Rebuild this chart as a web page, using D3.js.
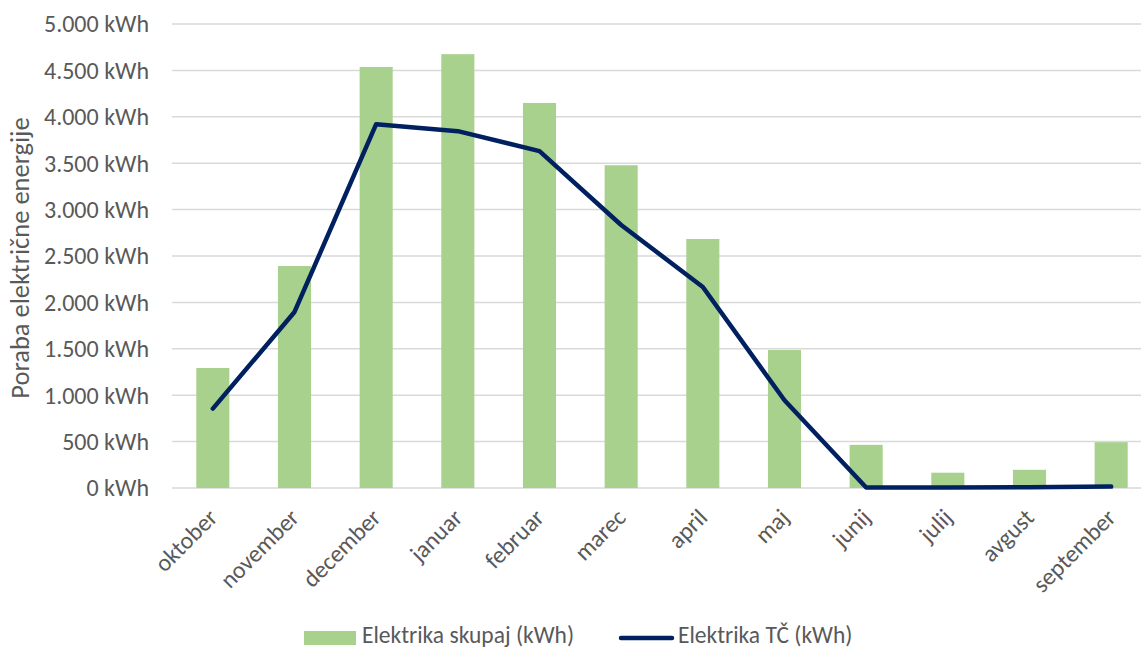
<!DOCTYPE html>
<html><head><meta charset="utf-8">
<script src="https://cdn.jsdelivr.net/npm/d3@7"></script>
<style>body{margin:0;background:#fff}svg{display:block}text{font-family:Carlito,Calibri,Lato,sans-serif}</style>
</head><body><svg id="c" width="1141" height="649"></svg>
<script>
const months = ["oktober","november","december","januar","februar","marec","april","maj","junij","julij","avgust","september"];
const totalKWh = [1293, 2392, 4537, 4675, 4149, 3478, 2683, 1487, 465, 165, 196, 494];
const heatPumpKWh = [855, 1897, 3920, 3845, 3630, 2834, 2166, 945, 5, 5, 8, 15];
const yTicks = [0,500,1000,1500,2000,2500,3000,3500,4000,4500,5000];
const seriesNames = ["Elektrika skupaj (kWh)", "Elektrika TČ (kWh)"];
const yTitle = "Poraba električne energije";

(function(){
const svg = d3.select("#c");
const pL = 172, pR = 1152, pT = 24, pB = 488;
const x = d3.scaleBand().domain(months).range([pL, pR]).padding(0);
const y = d3.scaleLinear().domain([0, 5000]).range([pB, pT]);
const fmt = v => d3.format(",")(v).replace(/,/g, ".") + " kWh";
const col = "#595959";

svg.append("g").selectAll("line").data(yTicks).join("line")
  .attr("x1", pL).attr("x2", 1141)
  .attr("y1", d => y(d)).attr("y2", d => y(d))
  .attr("stroke", "#d9d9d9").attr("stroke-width", 1.5);

svg.append("g").selectAll("text").data(yTicks).join("text")
  .attr("x", 149).attr("y", d => y(d)).attr("dy", "0.35em")
  .attr("text-anchor", "end").attr("fill", col)
  .style("font-size", "24px").text(fmt);

svg.append("text").attr("transform", `translate(29,${(pT+pB)/2+2}) rotate(-90)`)
  .attr("text-anchor", "middle").attr("fill", col)
  .style("font-size", "26.5px").text(yTitle);

const bw = x.bandwidth() * 0.405;
svg.append("g").selectAll("rect").data(months).join("rect")
  .attr("x", d => x(d) + x.bandwidth()/2 - bw/2)
  .attr("width", bw)
  .attr("y", (d,i) => y(totalKWh[i]))
  .attr("height", (d,i) => pB - y(totalKWh[i]))
  .attr("fill", "#a9d18e");

const line = d3.line().x((d,i) => x(months[i]) + x.bandwidth()/2).y(d => y(d));
svg.append("path").datum(heatPumpKWh).attr("d", line)
  .attr("fill", "none").attr("stroke", "#002060").attr("stroke-width", 4.5)
  .attr("stroke-linejoin", "round").attr("stroke-linecap", "round");

svg.append("g").selectAll("text").data(months).join("text")
  .attr("transform", d => `translate(${x(d) + x.bandwidth()/2 + 6},${519}) rotate(-45)`)
  .attr("text-anchor", "end").attr("fill", col)
  .style("font-size", "24px").text(d => d);

const lg = svg.append("g");
lg.append("rect").attr("x", 304).attr("y", 631).attr("width", 52).attr("height", 14).attr("fill", "#a9d18e");
lg.append("text").attr("x", 362).attr("y", 643).attr("fill", col).style("font-size", "23.5px").text(seriesNames[0]);
lg.append("line").attr("x1", 621).attr("x2", 672).attr("y1", 638).attr("y2", 638)
  .attr("stroke", "#002060").attr("stroke-width", 4.5).attr("stroke-linecap", "round");
lg.append("text").attr("x", 678).attr("y", 643).attr("fill", col).style("font-size", "23.5px").text(seriesNames[1]);
})();
</script></body></html>
